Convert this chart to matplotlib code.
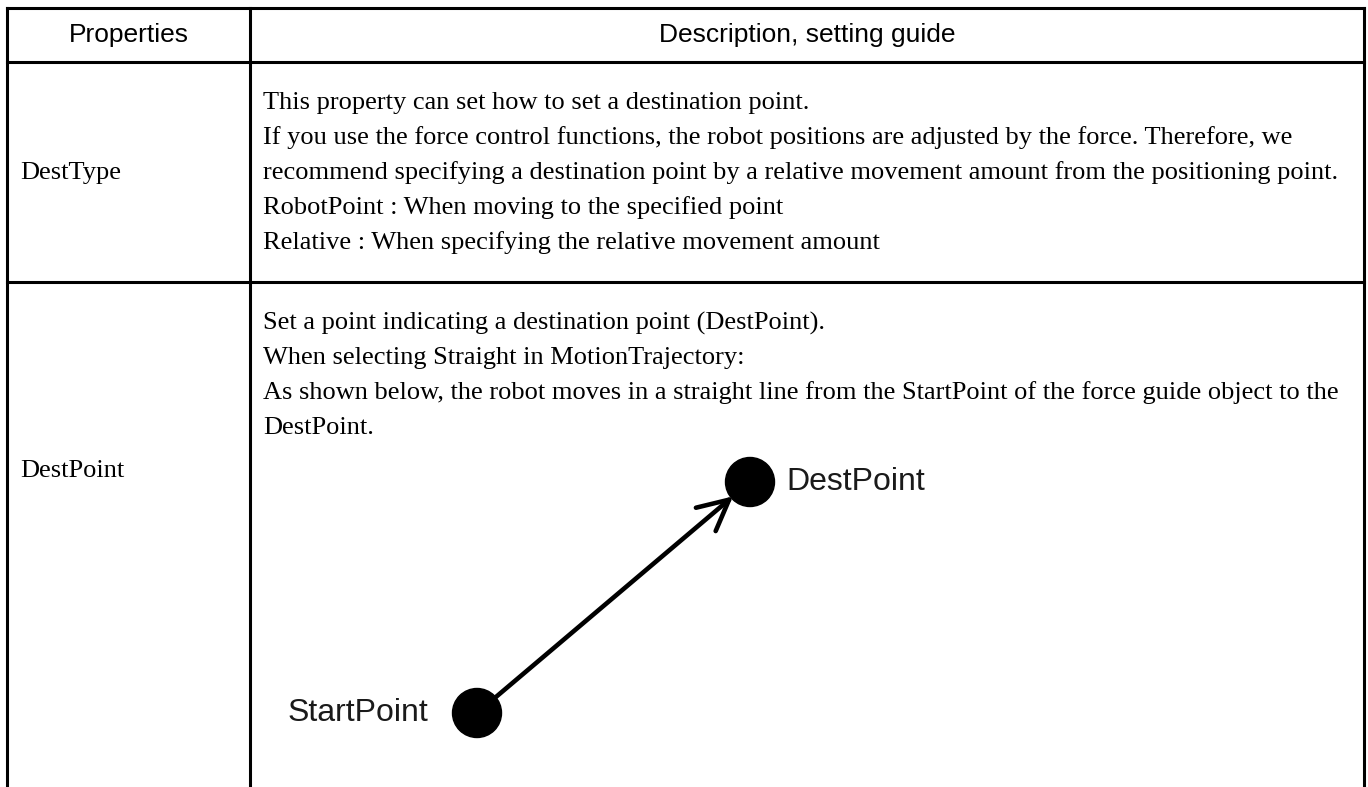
import matplotlib.pyplot as plt
from matplotlib.patches import Circle

# table content
headers = ['Properties', 'Description, setting guide']
row_names = ['DestType', 'DestPoint']
row_lines = [
    ['This property can set how to set a destination point.',
     'If you use the force control functions, the robot positions are adjusted by the force. Therefore, we',
     'recommend specifying a destination point by a relative movement amount from the positioning point.',
     'RobotPoint : When moving to the specified point',
     'Relative : When specifying the relative movement amount'],
    ['Set a point indicating a destination point (DestPoint).',
     'When selecting Straight in MotionTrajectory:',
     'As shown below, the robot moves in a straight line from the StartPoint of the force guide object to the',
     'DestPoint.'],
]
# diagram points (start, dest) in picture pixels
diagram_names = ['StartPoint', 'DestPoint']
diagram_x = [477, 750]
diagram_y = [713, 482]

W, H = 1368, 787
col_x = [7, 250, 1364]
row_y = [8, 62, 282]
line_gap = 35
first_line = 41
sans = 'Liberation Sans'
serif = 'Liberation Serif'

fig = plt.figure(figsize=(W / 100, H / 100), dpi=100)
ax = fig.add_axes([0, 0, 1, 1])
ax.set_xlim(0, W)
ax.set_ylim(H, 0)
ax.axis('off')

lw = 2.2
for y in row_y:
    ax.plot([col_x[0], col_x[-1]], [y, y], color='black', lw=lw, solid_capstyle='projecting')
for x in col_x:
    ax.plot([x, x], [row_y[0], H + 5], color='black', lw=lw, solid_capstyle='projecting')

# header
ax.text((col_x[0] + col_x[1]) / 2, (row_y[0] + row_y[1]) / 2, headers[0],
        family=sans, fontsize=19, ha='center', va='center')
ax.text((col_x[1] + col_x[2]) / 2, (row_y[0] + row_y[1]) / 2, headers[1],
        family=sans, fontsize=19, ha='center', va='center')

# row 1
y0 = row_y[1] + first_line
for i, line in enumerate(row_lines[0]):
    ax.text(col_x[1] + 13, y0 + i * line_gap, line, family=serif, fontsize=19, va='center')
ax.text(col_x[0] + 13, (row_y[1] + row_y[2]) / 2 + 1, row_names[0], family=serif, fontsize=19, va='center')

# row 2
y0 = row_y[2] + first_line
for i, line in enumerate(row_lines[1]):
    ax.text(col_x[1] + 13, y0 + i * line_gap, line, family=serif, fontsize=19, va='center')
ax.text(col_x[0] + 13, 471, row_names[1], family=serif, fontsize=19, va='center')

# diagram
r = 24.5
ax.annotate('', xy=(diagram_x[1], diagram_y[1]), xytext=(diagram_x[0], diagram_y[0]),
            arrowprops=dict(arrowstyle='->, head_length=0.4, head_width=0.2', lw=3.3,
                            color='black', mutation_scale=55, shrinkA=0, shrinkB=16))
for x, y in zip(diagram_x, diagram_y):
    ax.add_patch(Circle((x, y), r, color='black', zorder=3))
ax.text(diagram_x[0] - r - 24, diagram_y[0], diagram_names[0], family=sans, fontsize=23,
        color='#1a1a1a', ha='right', va='center')
ax.text(diagram_x[1] + r + 12, diagram_y[1], diagram_names[1], family=sans, fontsize=23,
        color='#1a1a1a', ha='left', va='center')

fig.savefig('out.png', dpi=100)
